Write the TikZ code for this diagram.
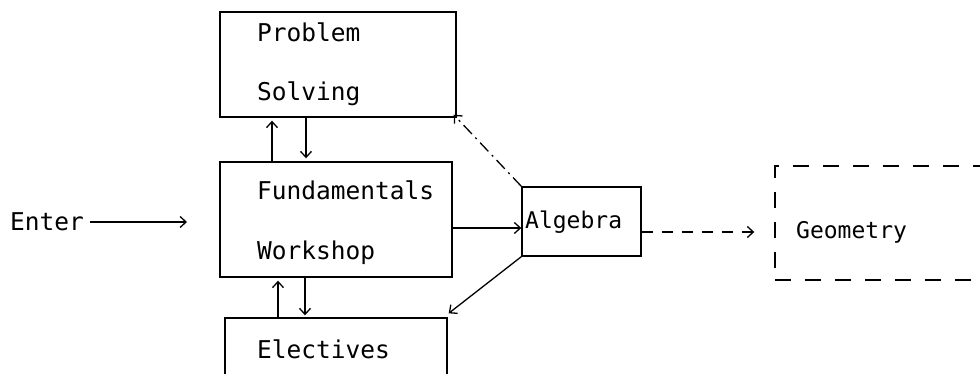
\documentclass[tikz,border=0pt]{standalone}
\usepackage{fontspec}
\setmonofont{DejaVu Sans Mono}
\usetikzlibrary{arrows.meta}
\begin{document}
\begin{tikzpicture}[x=1pt,y=-1pt,
  box/.style={draw, line width=1.4pt, inner sep=0pt},
  txt/.style={font=\ttfamily\fontsize{24.5}{26}\selectfont, inner sep=0pt, anchor=west},
  stxt/.style={txt, font=\ttfamily\fontsize{23}{25}\selectfont},
  arr/.style={line width=1.3pt, -{Straight Barb[length=6pt,width=11pt]}},
  darr/.style={arr, dash pattern=on 11pt off 9pt},
  ddarr/.style={arr, dash pattern=on 12pt off 5pt on 2pt off 5pt}]
\useasboundingbox (0,0) rectangle (980,374);
\clip (0,0) rectangle (980,374);
% boxes
\node[box, minimum width=236pt, minimum height=105pt] (ps) at (338,64.5) {};
\node[box, minimum width=232pt, minimum height=115pt] (fw) at (336,219.5) {};
\node[box, minimum width=222pt, minimum height=100pt] (el) at (336,368) {};
\node[box, minimum width=119pt, minimum height=69pt] (alg) at (581.5,221.5) {};
\node[box, dashed, dash pattern=on 16pt off 14pt, minimum width=260pt, minimum height=114pt] (geo) at (905,223) {};
% texts
\node[txt] (t1) at (257,32) {Problem};
\node[txt] (t2) at (257,94) {Solving};
\node[txt] (t3) at (257,190) {Fundamentals};
\node[txt] (t4) at (257,253) {Workshop};
\node[txt] (t5) at (257,349) {Electives};
\node[stxt] (t6) at (525,222) {Algebra};
\node[stxt] (t7) at (796,232) {Geometry};
\node[txt] (enter) at (10,222) {Enter};
\coordinate (fwin) at (187,222);
% connectors
\draw[arr] (enter.east) ++(6,0) -- (fwin);
\draw[arr] (fw.north -| 272,0) -- ([yshift=-3pt]ps.south -| 272,0);
\draw[arr] (ps.south -| 306,0) -- ([yshift=3pt]fw.north -| 306,0);
\draw[arr] (el.north -| 278,0) -- ([yshift=-3pt]fw.south -| 278,0);
\draw[arr] (fw.south -| 305,0) -- ([yshift=2pt]el.north -| 305,0);
\draw[arr] (fw.east |- 0,228) -- (alg.west |- 0,228);
\draw[ddarr] (alg.north west) -- ([shift={(-3pt,3pt)}]ps.south east);
\draw[arr] (alg.south west) -- ([xshift=1pt,yshift=4pt]el.north east);
\draw[darr] (alg.east |- 0,232) -- ([xshift=-20pt]geo.west |- 0,232);
\end{tikzpicture}
\end{document}
